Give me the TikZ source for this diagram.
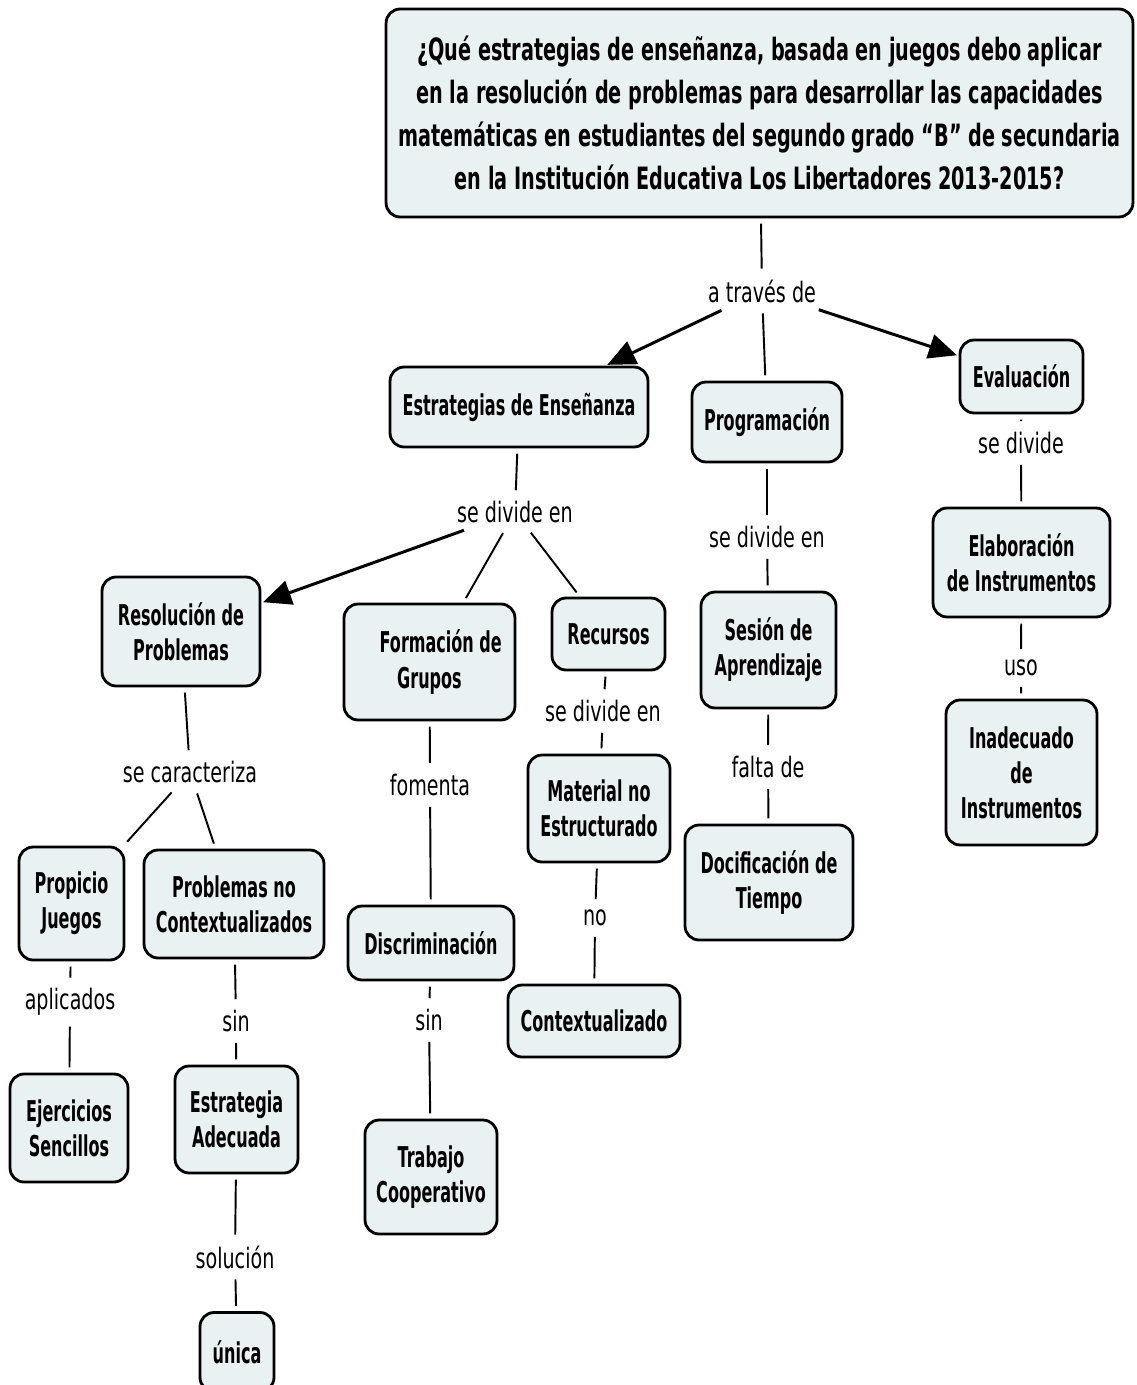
\documentclass[tikz,border=0pt]{standalone}
\usepackage{fontspec}
\setmainfont{DejaVu Sans}[FakeStretch=0.56]
\newfontfamily\questionfont{DejaVu Sans}[FakeStretch=0.625]
\newfontfamily\phrasefont{DejaVu Sans}[FakeStretch=0.68]
\usetikzlibrary{arrows.meta}
\definecolor{cmapfill}{HTML}{EAF1F3}

\begin{document}
\begin{tikzpicture}[x=0.02cm,y=-0.02cm,-,>={Triangle[length=16pt,width=14pt]},
		concept node/.style={rectangle,rounded corners=8pt,draw=black,fill=cmapfill,line width=1.6pt,
			align=center,inner sep=0pt,font=\bfseries\fontsize{16.3}{20}\selectfont},
		phrase node/.style={inner sep=3pt,font=\phrasefont\fontsize{16}{19}\selectfont},
		arrow/.style={->,line width=1.7pt,shorten >=1pt}]
		
		\useasboundingbox (0,0) rectangle (1136,1385);
		\fill[white] (0,0) rectangle (1136,1385);
		
		\node[concept node,minimum width=14.94cm,minimum height=4.16cm,
			font=\questionfont\bfseries\fontsize{17.5}{24.4}\selectfont] (q) at (759.5,113)
			{¿Qué estrategias de enseñanza, basada en juegos debo aplicar\\
			en la resolución de problemas para desarrollar las capacidades\\
			matemáticas en estudiantes del segundo grado “B” de secundaria\\
			en la Institución Educativa Los Libertadores 2013-2015?};
		
		\node[concept node,minimum width=5.16cm,minimum height=1.6cm] (est) at (519,407) {Estrategias de Enseñanza};
		\node[concept node,minimum width=3cm,minimum height=1.6cm] (prog) at (767,422) {Programación};
		\node[concept node,minimum width=2.46cm,minimum height=1.46cm] (eval) at (1021.5,376.5) {Evaluación};
		\node[concept node,minimum width=3.54cm,minimum height=2.18cm] (elab) at (1021.5,562.5) {Elaboración\\de Instrumentos};
		\node[concept node,minimum width=3.02cm,minimum height=2.9cm] (inad) at (1021.5,772.5) {Inadecuado\\de\\Instrumentos};
		\node[concept node,minimum width=3.16cm,minimum height=2.18cm] (res) at (181,631.5) {Resolución de\\Problemas};
		\node[concept node,minimum width=3.42cm,minimum height=2.32cm] (form) at (429.5,662) {\hspace{0.45cm}Formación de\\Grupos};
		\node[concept node,minimum width=2.26cm,minimum height=1.44cm] (recu) at (608.5,634) {Recursos};
		\node[concept node,minimum width=2.84cm,minimum height=2.14cm] (mat) at (599,808.5) {Material no\\Estructurado};
		\node[concept node,minimum width=3.44cm,minimum height=1.44cm] (ctx) at (594,1021) {Contextualizado};
		\node[concept node,minimum width=2.7cm,minimum height=2.32cm] (ses) at (768.5,650) {Sesión de\\Aprendizaje};
		\node[concept node,minimum width=3.36cm,minimum height=2.3cm] (dos) at (769,882.5) {Docificación de\\Tiempo};
		\node[concept node,minimum width=3.32cm,minimum height=1.48cm] (disc) at (431,943) {Discriminación};
		\node[concept node,minimum width=2.64cm,minimum height=2.28cm] (trab) at (431,1177) {Trabajo\\Cooperativo};
		\node[concept node,minimum width=2.1cm,minimum height=2.26cm] (prop) at (71.5,903.5) {Propicio\\Juegos};
		\node[concept node,minimum width=3.6cm,minimum height=2.16cm] (pnc) at (234,904) {Problemas no\\Contextualizados};
		\node[concept node,minimum width=2.36cm,minimum height=2.16cm] (ejer) at (69,1128) {Ejercicios\\Sencillos};
		\node[concept node,minimum width=2.46cm,minimum height=2.14cm] (estad) at (236.5,1119.5) {Estrategia\\Adecuada};
		\node[concept node,minimum width=1.48cm,minimum height=1.58cm] (unica) at (237,1352) {única};
		
		\node[phrase node] (lt) at (762,291) {a través de};
		\node[phrase node] (l1) at (515,512) {se divide en};
		\node[phrase node] (l2) at (767,537) {se divide en};
		\node[phrase node] (l3) at (1021,443) {se divide};
		\node[phrase node] (l4) at (603,711) {se divide en};
		\node[phrase node] (l5) at (1021,668) {uso};
		\node[phrase node] (l6) at (190,772) {se caracteriza};
		\node[phrase node] (l7) at (430,785) {fomenta};
		\node[phrase node] (l8) at (768,767) {falta de};
		\node[phrase node] (l9) at (595,918) {no};
		\node[phrase node] (l10) at (70,1002) {aplicados};
		\node[phrase node] (l11) at (236,1021) {sin};
		\node[phrase node] (l12) at (429,1020) {sin};
		\node[phrase node] (l13) at (235,1257) {solución};
		
		\path[every edge/.style={draw,line width=1.1pt,shorten <=3pt,shorten >=3pt}]
		(q) edge (lt)
		(lt) edge[arrow] (est)
		(lt) edge (prog)
		(lt) edge[arrow] (eval)
		(eval) edge (l3)
		(l3) edge (elab)
		(elab) edge (l5)
		(l5) edge (inad)
		(est) edge (l1)
		(l1) edge[arrow] (res)
		(l1) edge (form)
		(l1) edge (recu)
		(recu) edge (l4)
		(l4) edge (mat)
		(mat) edge (l9)
		(l9) edge (ctx)
		(prog) edge (l2)
		(l2) edge (ses)
		(ses) edge (l8)
		(l8) edge (dos)
		(form) edge (l7)
		(l7) edge (disc)
		(disc) edge (l12)
		(l12) edge (trab)
		(res) edge (l6)
		(l6) edge (prop)
		(l6) edge (pnc)
		(prop) edge (l10)
		(l10) edge (ejer)
		(pnc) edge (l11)
		(l11) edge (estad)
		(estad) edge (l13)
		(l13) edge (unica)
		;
		\end{tikzpicture}
\end{document}
